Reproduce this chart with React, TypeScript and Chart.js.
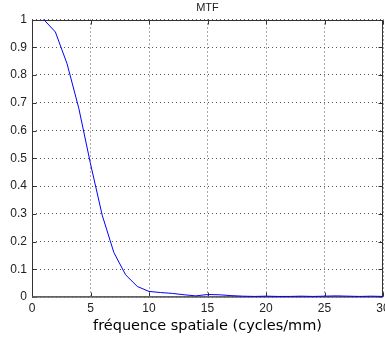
import React, { useEffect, useRef } from 'react';
import { Chart, registerables } from 'chart.js';

Chart.register(...registerables);

const titleText = 'MTF';
const xLabel = 'fréquence spatiale (cycles/mm)';
const freq = [1, 2, 3, 4, 5, 6, 7, 8, 9, 10, 11, 12, 13, 14, 15, 16, 17, 18, 19, 20, 21, 22, 23, 24, 25, 26, 27, 28, 29, 30];
const mtf = [1.0, 0.955, 0.84, 0.68, 0.48, 0.295, 0.16, 0.08, 0.038, 0.02, 0.016, 0.013, 0.008, 0.004, 0.009, 0.008, 0.005, 0.003, 0.002, 0.003, 0.002, 0.002, 0.003, 0.002, 0.003, 0.004, 0.003, 0.002, 0.003, 0.002];
const xMin = 0;
const xMax = 30;
const xStep = 5;
const yMin = 0;
const yMax = 1;
const yStep = 0.1;
const yTickLabels = ['0', '0.1', '0.2', '0.3', '0.4', '0.5', '0.6', '0.7', '0.8', '0.9', '1'];

const tickFont = { family: "'Liberation Sans Narrow', 'Liberation Sans', Arial, sans-serif", size: 12 };

const boxPlugin = {
  id: 'boxPlugin',
  beforeDatasetsDraw(chart: any) {
    const { ctx, chartArea: a, scales } = chart;
    const xs = scales.x;
    const ys = scales.y;
    const L = Math.round(a.left) + 0.5;
    const R = Math.round(a.right) - 0.5;
    const T = Math.round(a.top) + 0.5;
    const B = Math.round(a.bottom) - 0.5;
    ctx.save();
    ctx.strokeStyle = '#333';
    ctx.lineWidth = 1;
    ctx.beginPath();
    xs.ticks.forEach((t: any) => {
      const px = Math.round(xs.getPixelForValue(t.value)) + 0.5;
      ctx.moveTo(px, B);
      ctx.lineTo(px, B - 4);
      ctx.moveTo(px, T);
      ctx.lineTo(px, T + 4);
    });
    ys.ticks.forEach((t: any) => {
      const py = Math.round(ys.getPixelForValue(t.value)) + 0.5;
      ctx.moveTo(L, py);
      ctx.lineTo(L + 4, py);
      ctx.moveTo(R, py);
      ctx.lineTo(R - 4, py);
    });
    ctx.stroke();
    ctx.strokeRect(L, T, R - L, B - T);
    ctx.strokeStyle = 'rgba(110,110,110,0.8)';
    ctx.lineWidth = 2;
    ctx.beginPath();
    ctx.moveTo(L, Math.round(a.bottom));
    ctx.lineTo(R, Math.round(a.bottom));
    ctx.stroke();
    ctx.restore();
  },
};

export default function App() {
  const ref = useRef<HTMLCanvasElement | null>(null);
  useEffect(() => {
    if (!ref.current) return;
    const chart = new Chart(ref.current, {
      type: 'line',
      data: {
        datasets: [
          {
            data: freq.map((f, i) => ({ x: f, y: mtf[i] })),
            borderColor: '#0000ff',
            borderWidth: 1,
            pointRadius: 0,
            tension: 0,
            fill: false,
            clip: false,
          },
        ],
      },
      options: {
        animation: false,
        responsive: false,
        layout: { padding: { left: 0, right: 2, top: 0, bottom: 0 } },
        plugins: {
          legend: { display: false },
          tooltip: { enabled: false },
          title: {
            display: true,
            text: titleText,
            fullSize: false,
            color: '#222',
            font: { family: tickFont.family, size: 11, weight: 'normal' },
            padding: { top: 1.5, bottom: 4.8 },
          },
        },
        scales: {
          x: {
            type: 'linear',
            min: xMin,
            max: xMax,
            ticks: { stepSize: xStep, color: '#222', font: tickFont, padding: 4, maxRotation: 0 },
            grid: { color: '#555', lineWidth: 1, drawTicks: false },
            border: { display: false, dash: [1, 3] },
            title: {
              display: true,
              text: xLabel,
              color: '#000',
              font: { family: "'DejaVu Sans', Verdana, sans-serif", size: 14.5 },
              padding: { top: 0, bottom: 4.5 },
            },
            afterFit(scale: any) {
              scale.height = 42;
              scale.paddingLeft = 0;
              scale.paddingRight = 0;
            },
          },
          y: {
            type: 'linear',
            min: yMin,
            max: yMax,
            ticks: {
              stepSize: yStep,
              color: '#222',
              font: tickFont,
              padding: 5,
              callback: (v: number) => yTickLabels[Math.round((v - yMin) / yStep)] ?? String(v),
            },
            grid: { color: '#555', lineWidth: 1, drawTicks: false },
            border: { display: false, dash: [1, 3] },
            afterFit(scale: any) {
              scale.width = 32;
              scale.paddingTop = 0;
              scale.paddingBottom = 0;
            },
          },
        },
      },
      plugins: [boxPlugin],
    } as any);
    return () => chart.destroy();
  }, []);
  return (
    <div style={{ position: 'absolute', left: 0, top: 0, width: 385, height: 339, background: '#fff' }}>
      <canvas ref={ref} width={385} height={339} />
    </div>
  );
}
